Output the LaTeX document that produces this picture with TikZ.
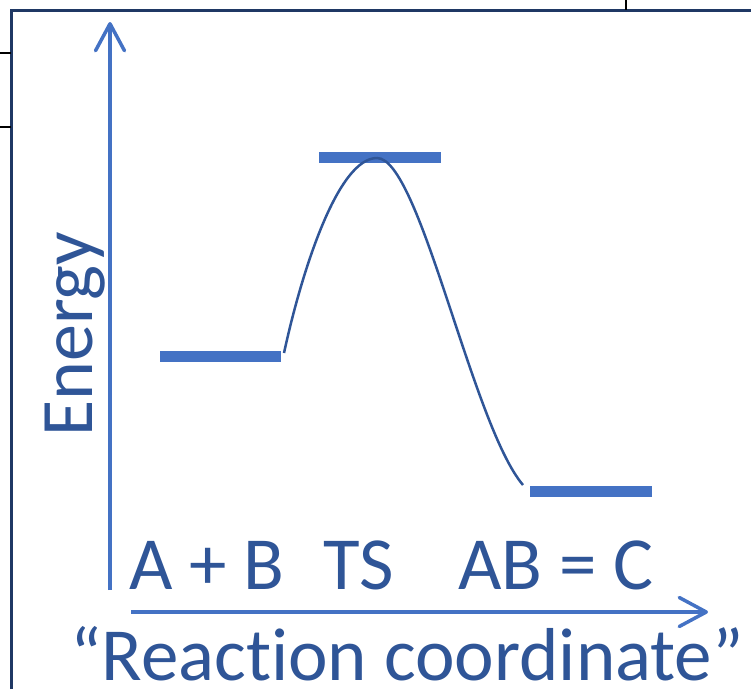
\documentclass[tikz,border=0pt]{standalone}
\usepackage{fontspec}
\setmainfont{Carlito}[Ligatures=NoCommon]
\usetikzlibrary{arrows.meta,positioning}
\definecolor{axisblue}{HTML}{4472C4}
\definecolor{textblue}{HTML}{2F5597}
\definecolor{framenavy}{HTML}{1F3864}

\begin{document}
\begin{tikzpicture}[x=1pt,y=-1pt,
    axis/.style={draw=axisblue, line width=3.5pt,
      -{Straight Barb[length=27pt,width=29pt,line width=3.5pt,round]}},
    level/.style={draw=axisblue, line width=11pt},
    path curve/.style={draw=textblue, line width=2.5pt},
    label/.style={text=textblue, inner sep=0pt,
      font=\fontsize{75}{80}\selectfont},
  ]
  \useasboundingbox (0,0) rectangle (751,689);
  % slide frame
  \draw[framenavy, line width=3pt] (11,689) -- (11,10) -- (751,10);
  \draw[black, line width=1.5pt] (0,53) -- (11,53) (0,127) -- (11,127)
    (626,0) -- (626,10);

  % axes
  \coordinate (origin y) at (110,590);
  \coordinate (top y) at (110,22);
  \coordinate (origin x) at (131,612);
  \coordinate (end x) at (708,612);
  \draw[axis] (origin y) -- (top y);
  \draw[axis] (origin x) -- (end x);

  % energy levels
  \coordinate (react w) at (160,356);
  \coordinate (react e) at (281,356);
  \coordinate (ts w) at (319,157.5);
  \coordinate (ts e) at (441,157.5);
  \coordinate (prod w) at (530,491.5);
  \coordinate (prod e) at (652,491.5);
  \draw[level] (react w) -- (react e);
  \draw[level] (ts w) -- (ts e);
  \draw[level] (prod w) -- (prod e);

  % reaction path
  \coordinate (path start) at (284,353);
  \coordinate (path peak) at (377,158);
  \coordinate (path end) at (523,485);
  \draw[path curve] (path start) .. controls (302,270) and (338,158) .. (path peak)
    .. controls (420,158) and (472,425) .. (path end);

  % labels
  \node[label, rotate=90, anchor=base west, font=\fontsize{74}{80}\selectfont]
    (energy) at (92,437) {Energy};
  \node[label, anchor=base west] (reactants) at (129,589) {A + B};
  \node[label, anchor=base west] (ts label) at (323,589) {TS};
  \node[label, anchor=base west] (products) at (458,589) {AB = C};
  \node[label, anchor=base west] (xlabel) at (70,680) {“Reaction coordinate”};
\end{tikzpicture}
\end{document}
